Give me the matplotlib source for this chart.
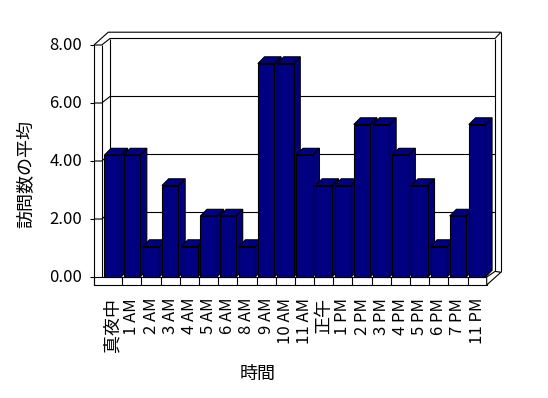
import numpy as np
import matplotlib
matplotlib.use("Agg")
import matplotlib.pyplot as plt
from matplotlib.patches import Polygon, Rectangle

plt.rcParams['font.family'] = ['Noto Sans CJK JP', 'DejaVu Sans']

# data
hours = ["真夜中", "1 AM", "2 AM", "3 AM", "4 AM", "5 AM", "6 AM", "8 AM", "9 AM",
         "10 AM", "11 AM", "正午", "1 PM", "2 PM", "3 PM", "4 PM", "5 PM", "6 PM",
         "7 PM", "11 PM"]
visits = [4, 4, 1, 3, 1, 2, 2, 1, 7, 7, 4, 3, 3, 5, 5, 4, 3, 1, 2, 5]
y_ticks = [0, 2, 4, 6, 8]
x_title = "時間"
y_title = "訪問数の平均"

W, H = 548, 398
XS, YS = 19.18, 30.5          # px per category / per value unit
X0, Y0 = 103.1, 277.0         # px of category 0 left edge / value 0
NAVY = "#000080"
LW = 0.8


def px_x(p):
    return (p - X0) / XS


def px_y(p):
    return (Y0 - p) / YS


def dpx(dx, dy):
    return dx / XS, dy / YS


fig = plt.figure(figsize=(W / 100, H / 100), dpi=100)
ax = fig.add_axes([0, 0, 1, 1])
ax.set_xlim(px_x(0), px_x(W))
ax.set_ylim(px_y(H), px_y(0))
ax.axis("off")

n = len(hours)
tick_scale = 29.0 / 30.5
def ty(v):
    return v * tick_scale

xl = px_x(94.0)       # front left axis
xw = px_x(101.7)      # inner edge of left wall
xr = float(n)         # right end of floor front
ft = 8.0 / YS         # floor thickness
d1x, d1y = dpx(8.3, 6.5)     # inner depth (back wall face)
d2x, d2y = dpx(14.2, 12.8)   # outer depth (back of wall)
top = ty(y_ticks[-1])

kw = dict(color="black", lw=LW, solid_capstyle="butt")

# back wall face
ax.add_patch(Rectangle((xw + d1x, ty(0) + d1y), xr - xw, top - ty(0),
                       facecolor="white", edgecolor="none", zorder=1))
ax.plot([xw + d1x, xw + d1x], [top + d1y, ty(0) + d1y], zorder=2, **kw)
ax.plot([xr + d1x, xr + d1x], [top + d1y, ty(0) + d1y - 0.03], zorder=2, **kw)

# gridlines running over the left wall and back wall
for v in y_ticks[1:]:
    ax.plot([xl, xw, xw + d1x, xr + d1x], [ty(v), ty(v), ty(v) + d1y, ty(v) + d1y],
            zorder=2, **kw)

# top of the walls (outer outline)
ax.plot([xl, xl + d2x, xr + d2x, xr + d1x],
        [top, top + d2y, top + d2y, top + d1y], zorder=2, **kw)
ax.plot([xr + d2x, xr + d2x], [top + d2y, -ft + d2y], zorder=2, **kw)

# floor slab
ax.add_patch(Rectangle((xl, -ft), xr - xl, ft, facecolor="white",
                       edgecolor="black", lw=LW, zorder=3))
for k in range(1, n):
    ax.plot([k, k], [-ft, 0], zorder=3, **kw)
ax.add_patch(Polygon([(xr, 0), (xr + d1x, d1y - 0.03), (xr + d2x, -ft + d2y), (xr, -ft)],
                     closed=True, facecolor="white", edgecolor="black", lw=LW, zorder=3))

# left axis lines and ticks
ax.plot([xl, xl], [top, -ft], zorder=4, **kw)
ax.plot([xw, xw], [top, 0], zorder=2, **kw)
tick_len = 4 / XS
for v in y_ticks:
    ax.plot([xl - tick_len, xl], [ty(v), ty(v)], zorder=4, **kw)
    ax.text(px_x(82), ty(v), f"{v:.2f}", ha="right", va="center", fontsize=12)

# bars
bw = 0.86
bdx, bdy = dpx(6.7, 6.7)
xs = np.arange(n) + 0.5
bars = ax.bar(xs, visits, width=bw, bottom=0, color=NAVY, edgecolor="black",
              linewidth=LW)
for k, (patch, v) in enumerate(zip(bars, visits)):
    x0 = xs[k] - bw / 2
    x1 = xs[k] + bw / 2
    z = 10 + 2 * k
    side = Polygon([(x1, 0), (x1 + bdx, bdy), (x1 + bdx, v + bdy), (x1, v)],
                   closed=True, facecolor=NAVY, edgecolor="black", lw=LW, zorder=z)
    topf = Polygon([(x0, v), (x1, v), (x1 + bdx, v + bdy), (x0 + bdx, v + bdy)],
                   closed=True, facecolor=NAVY, edgecolor="black", lw=LW, zorder=z)
    ax.add_patch(side)
    ax.add_patch(topf)
    patch.set_zorder(z + 1)

# category labels
for k, lab in enumerate(hours):
    size = 12 if lab.isascii() else 13
    ax.text(xs[k], px_y(298), lab, rotation=90, ha="center", va="top", fontsize=size)

ax.text(px_x(258), px_y(374), x_title, ha="center", va="center", fontsize=13)
ax.text(px_x(26), px_y(174), y_title, rotation=90, ha="center", va="center",
        fontsize=13)

fig.savefig("out.png", dpi=100)
